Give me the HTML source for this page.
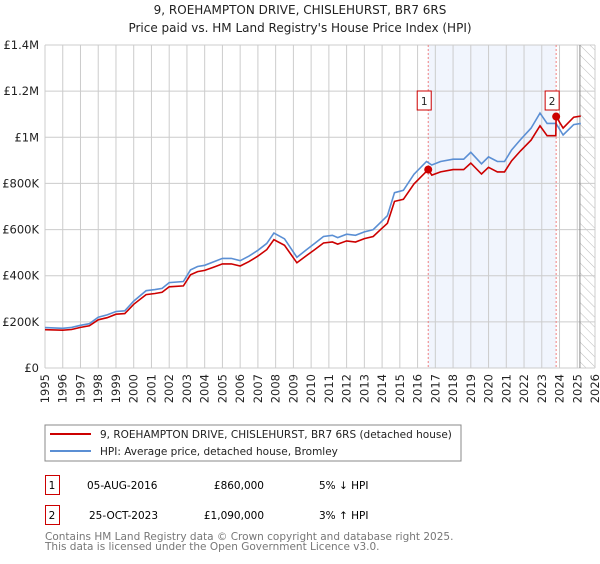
<!DOCTYPE html>
<html><head><meta charset="utf-8"><style>
body{margin:0;background:#fff;font-family:"DejaVu Sans","Liberation Sans",sans-serif;}
svg text{font-family:"DejaVu Sans","Liberation Sans",sans-serif;}
</style></head><body>
<svg id="c" width="600" height="560" xmlns="http://www.w3.org/2000/svg">
<text x="300" y="14" text-anchor="middle" font-size="12" fill="#222">9, ROEHAMPTON DRIVE, CHISLEHURST, BR7 6RS</text>
<text x="300" y="32" text-anchor="middle" font-size="12" fill="#222">Price paid vs. HM Land Registry's House Price Index (HPI)</text>
<g id="plot"></g>
<rect x="45" y="425" width="416" height="36" fill="#fff" stroke="#888"/>
<line x1="50" y1="434" x2="91" y2="434" stroke="#cc0000" stroke-width="2"/>
<text x="100" y="438" font-size="10.5" fill="#222">9, ROEHAMPTON DRIVE, CHISLEHURST, BR7 6RS (detached house)</text>
<line x1="50" y1="451" x2="91" y2="451" stroke="#5b8fd4" stroke-width="2"/>
<text x="100" y="455" font-size="10.5" fill="#222">HPI: Average price, detached house, Bromley</text>
<g>
<rect x="45.5" y="475.5" width="14" height="19" fill="#fff" stroke="#cc0000"/>
<text x="52" y="489" text-anchor="middle" font-size="10.5">1</text>
<text x="87" y="489" font-size="10.5">05-AUG-2016</text>
<text x="264" y="489" text-anchor="end" font-size="10.5">£860,000</text>
<text x="319" y="489" font-size="10.5">5% ↓ HPI</text>
</g>
<g>
<rect x="45.5" y="505.5" width="14" height="19" fill="#fff" stroke="#cc0000"/>
<text x="52" y="519" text-anchor="middle" font-size="10.5">2</text>
<text x="89" y="519" font-size="10.5">25-OCT-2023</text>
<text x="264" y="519" text-anchor="end" font-size="10.5">£1,090,000</text>
<text x="319" y="519" font-size="10.5">3% ↑ HPI</text>
</g>
<text x="45" y="540" font-size="10.5" fill="#777">Contains HM Land Registry data © Crown copyright and database right 2025.</text>
<text x="45" y="550" font-size="10.5" fill="#777">This data is licensed under the Open Government Licence v3.0.</text>
</svg>
<script>
const hpiYears=[1995,1995.5,1996,1996.5,1997,1997.5,1998,1998.5,1999,1999.5,2000,2000.7,2001.2,2001.6,2002,2002.8,2003.2,2003.6,2004,2004.5,2005,2005.5,2006,2006.5,2007,2007.5,2007.9,2008.5,2009.2,2009.7,2010.2,2010.7,2011.2,2011.5,2012,2012.5,2013,2013.5,2013.9,2014.3,2014.7,2015.2,2015.8,2016.5,2016.8,2017.3,2018,2018.6,2019,2019.6,2020,2020.5,2020.9,2021.3,2021.8,2022.4,2022.9,2023.3,2023.8,2024.2,2024.8,2025.2];
const hpiValues=[175,174,172,176,185,192,220,230,245,248,290,335,340,345,370,375,425,440,445,460,475,475,465,485,510,540,585,560,480,510,540,570,575,565,580,575,590,600,630,660,760,770,840,895,880,895,905,905,935,885,915,895,895,945,990,1040,1105,1060,1060,1010,1055,1060];
const redYears=[1995,1995.5,1996,1996.5,1997,1997.5,1998,1998.5,1999,1999.5,2000,2000.7,2001.2,2001.6,2002,2002.8,2003.2,2003.6,2004,2004.5,2005,2005.5,2006,2006.5,2007,2007.5,2007.9,2008.5,2009.2,2009.7,2010.2,2010.7,2011.2,2011.5,2012,2012.5,2013,2013.5,2013.9,2014.3,2014.7,2015.2,2015.8,2016.6,2016.8,2017.3,2018,2018.6,2019,2019.6,2020,2020.5,2020.9,2021.3,2021.8,2022.4,2022.9,2023.3,2023.79,2023.81,2024.2,2024.8,2025.2];
const redValues=[166,165,164,167,176,183,209,218,233,236,276,318,323,328,352,356,404,418,423,437,451,451,442,461,485,513,556,532,456,485,513,542,546,537,551,546,561,570,599,627,722,731,798,860,836,850,860,860,888,841,870,850,850,898,941,988,1050,1007,1007,1090,1040,1087,1092];
const xTicks=[1995,1996,1997,1998,1999,2000,2001,2002,2003,2004,2005,2006,2007,2008,2009,2010,2011,2012,2013,2014,2015,2016,2017,2018,2019,2020,2021,2022,2023,2024,2025,2026];
const yTicks=[0,200,400,600,800,1000,1200,1400];
const yTickLabels=["£0","£200K","£400K","£600K","£800K","£1M","£1.2M","£1.4M"];
const saleYears=[2016.6,2023.81];
const saleValues=[860,1090];
const saleLabels=["1","2"];
const X0=45,X1=595,Y0=368,Y1=45;
const xs=y=>X0+(y-1995)/(2026-1995)*(X1-X0);
const ys=v=>Y0-v/1400*(Y0-Y1);
const NS="http://www.w3.org/2000/svg";
const g=document.getElementById('plot');
function mk(t,a){const e=document.createElementNS(NS,t);for(const k in a)e.setAttribute(k,a[k]);g.appendChild(e);return e;}
let e=mk('rect',{x:xs(saleYears[0]),y:Y1,width:xs(saleYears[1])-xs(saleYears[0]),height:Y0-Y1,fill:'#eef3fc',opacity:0.8});


const hx=xs(2025.15);
const defs=document.createElementNS(NS,'defs');
defs.innerHTML='<pattern id="h" width="7" height="7" patternUnits="userSpaceOnUse" patternTransform="rotate(-45)"><line x1="0" y1="0" x2="0" y2="7" stroke="#bbb" stroke-width="1"/></pattern>';
g.appendChild(defs);
e=mk('rect',{x:hx,y:Y1,width:X1-hx,height:Y0-Y1,fill:'url(#h)'});


xTicks.forEach(t=>{
 e=mk('line',{x1:xs(t),x2:xs(t),y1:Y1,y2:Y0,stroke:'#ccc','stroke-width':1});
 
 
 e=mk('text',{x:0,y:0,'font-size':11.5,fill:'#222','text-anchor':'end',transform:`translate(${xs(t)+4},${Y0+6}) rotate(-90)`});
 e.textContent=t;
 
 
});
yTicks.forEach((t,i)=>{
 e=mk('line',{x1:X0,x2:X1,y1:ys(t),y2:ys(t),stroke:'#ccc','stroke-width':1});
 
 
 e=mk('text',{x:X0-6,y:ys(t)+4,'font-size':11.5,fill:'#222','text-anchor':'end'});
 e.textContent=yTickLabels[i];
 
 
});
e=mk('line',{x1:hx,x2:hx,y1:Y1,y2:Y0,stroke:'#888','stroke-width':1});


saleYears.forEach((s,i)=>{
 e=mk('line',{x1:xs(s),x2:xs(s),y1:Y1,y2:Y0,stroke:'#f08080','stroke-width':1,'stroke-dasharray':'2,2'});
 
 
});
function path(xa,va,col,name){
 const d=xa.map((x,i)=>(i?'L':'M')+xs(x).toFixed(1)+','+ys(va[i]).toFixed(1)).join('');
 const p=mk('path',{d:d,fill:'none',stroke:col,'stroke-width':1.6});
 
 
}
path(hpiYears,hpiValues,'#5b8fd4','hpi-line');
path(redYears,redValues,'#cc0000','price-paid-line');
saleYears.forEach((s,i)=>{
 e=mk('circle',{cx:xs(s),cy:ys(saleValues[i]),r:4,fill:'#cc0000'});
 
 
 const bx=xs(s)-4;
 e=mk('rect',{x:bx-7,y:91,width:14,height:19,fill:'#fff',stroke:'#cc0000'});
 
 
 e=mk('text',{x:bx,y:105,'font-size':10.5,'text-anchor':'middle',fill:'#222'});
 e.textContent=saleLabels[i];
 
 
});
</script>
</body></html>
